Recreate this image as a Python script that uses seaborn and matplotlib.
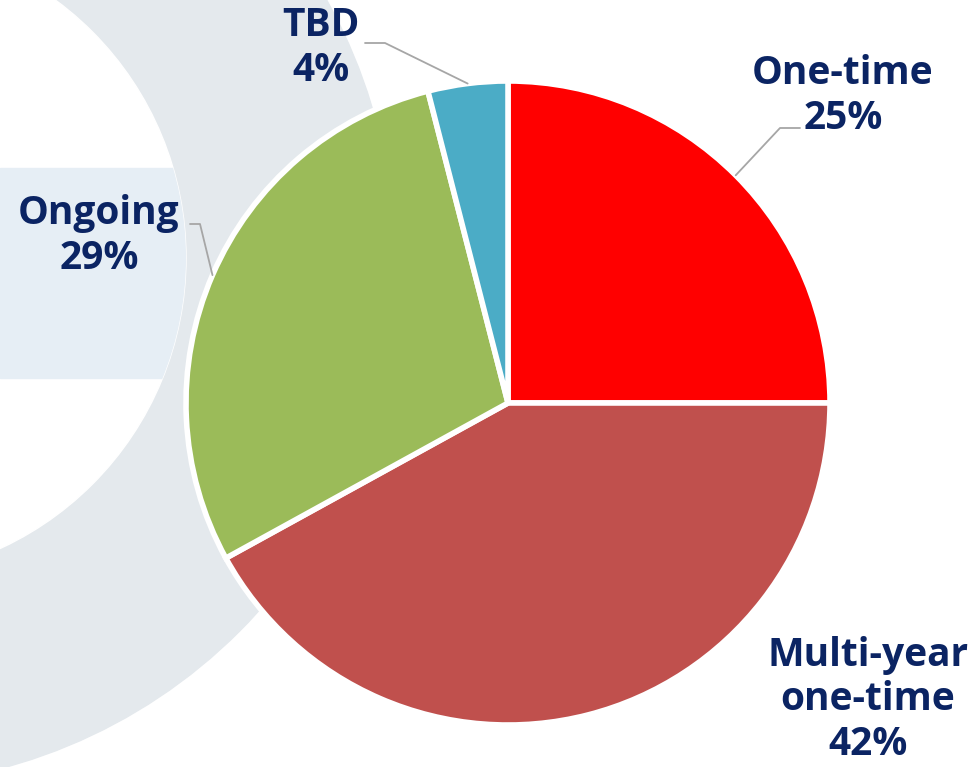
import numpy as np
import seaborn as sns
import matplotlib.pyplot as plt
from matplotlib.patches import Circle, Rectangle

# data
categories = ["One-time", "Multi-year\none-time", "Ongoing", "TBD"]
shares = [25, 42, 29, 4]
colors = ["#FF0000", "#C0504D", "#9BBB59", "#4BACC6"]

sns.set_theme(style="white")
plt.rcParams['font.family'] = ['Open Sans', 'DejaVu Sans']

W, H = 975, 767
fig = plt.figure(figsize=(W / 100, H / 100), dpi=100)
ax = fig.add_axes([0, 0, 1, 1])

# background decoration: grey ring + pale blue band (pixel coords, y up)
ring_c = (-134, H - 258)
ax.add_patch(Circle(ring_c, 528, color="#E4E9ED", zorder=0))
inner = Circle(ring_c, 320, color="white", zorder=1)
ax.add_patch(inner)
band = Rectangle((0, H - 378), 260, 210, color="#E6EEF5", zorder=2)
ax.add_patch(band)
band.set_clip_path(inner)

# pie
cx, cy, R = 508, H - 403, 322
wedges, _ = ax.pie(shares, colors=colors, startangle=90, counterclock=False,
                   center=(cx, cy), radius=R, frame=True,
                   wedgeprops=dict(edgecolor="white", linewidth=4, zorder=3))
ax.set_xlim(0, W)
ax.set_ylim(0, H)
ax.axis('off')

# label layout: text centre, elbow and end of leader (None = no leader)
label_pos = [(843, H - 96), (868, H - 700), (99, H - 236), (321, H - 48)]
leader_pts = [[(780, H - 128), (800, H - 128)],
              None,
              [(200, H - 224), (190, H - 224)],
              [(385, H - 43), (365, H - 43)]]

for w, lab, pct, pos, lead in zip(wedges, categories, shares, label_pos, leader_pts):
    ax.text(pos[0], pos[1], f"{lab}\n{pct}%", ha="center", va="center",
            fontsize=28, fontweight="bold", color="#0B2463",
            linespacing=1.17, zorder=5)
    if lead is not None:
        mid = np.deg2rad((w.theta1 + w.theta2) / 2)
        ex, ey = cx + R * np.cos(mid), cy + R * np.sin(mid)
        xs = [ex] + [p[0] for p in lead]
        ys = [ey] + [p[1] for p in lead]
        ax.plot(xs, ys, color="#A6A6A6", linewidth=1.3, zorder=4)

fig.savefig("out.png", dpi=100)
